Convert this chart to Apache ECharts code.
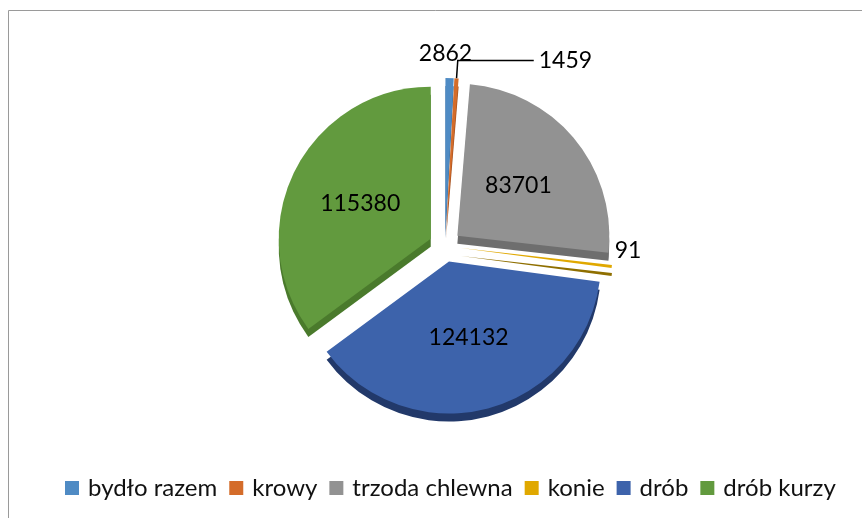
<!DOCTYPE html>
<html>
<head>
<meta charset="utf-8">
<script src="https://cdn.jsdelivr.net/npm/echarts@6/dist/echarts.min.js"></script>
<style>
html, body { margin: 0; padding: 0; background: #fff; }
#main { width: 862px; height: 518px; }
</style>
</head>
<body>
<div id="main"></div>
<script>
var names = ['bydło razem', 'krowy', 'trzoda chlewna', 'konie', 'drób', 'drób kurzy'];
var values = [2862, 1459, 83701, 91, 124132, 115380];
var colors = ['#4F8BC4', '#D46C2A', '#929292', '#E0A800', '#3D63AB', '#629A3E'];
var sideColors = ['#3A6A98', '#A5511F', '#6E6E6E', '#8F6F00', '#22396A', '#4A7A2C'];
var labelPos = ['outside', 'outside', 'inside', 'outside', 'inside', 'inside'];
var lineShow = [false, true, false, false, false, false];
var lineLen = [8, 18, 0, 4, 0, 0];
var lineLen2 = [0, 76, 0, 0, 0, 0];
// small nudges of the outside labels
var labelShift = { 0: [-36, -16], 3: [-6, -16] };

var myChart = echarts.init(document.getElementById('main'));

var center = [445, 246];
var radius = 152;
var depth = 8;

var topData = names.map(function (n, i) {
    return {
        name: n,
        value: values[i],
        selected: true,
        itemStyle: { color: colors[i] },
        label: { position: labelPos[i] },
        labelLine: { show: lineShow[i], length: lineLen[i], length2: lineLen2[i] }
    };
});

var sideData = names.map(function (n, i) {
    return {
        name: n,
        value: values[i],
        selected: true,
        itemStyle: { color: sideColors[i] }
    };
});

var option = {
    legend: {
        data: names,
        bottom: 13,
        left: 60,
        itemWidth: 14,
        itemHeight: 14,
        itemGap: 12,
        icon: 'rect',
        textStyle: { fontFamily: 'Lato', fontSize: 24, color: '#111', padding: [0, 0, 0, 4] }
    },
    graphic: [{
        type: 'rect',
        shape: { x: 8.5, y: 10.5, width: 870, height: 520 },
        style: { fill: null, stroke: '#9a9a9a', lineWidth: 1 },
        silent: true
    }],
    series: [
        {
            name: 'zwierzęta',
            type: 'pie',
            center: center,
            radius: radius,
            startAngle: 90,
            minAngle: 1.2,
            selectedMode: 'multiple',
            selectedOffset: 16,
            avoidLabelOverlap: false,
            label: {
                show: true,
                formatter: '{c}',
                fontFamily: 'Lato',
                fontSize: 23,
                color: '#000'
            },
            labelLine: { lineStyle: { color: '#000', width: 1.5 } },
            labelLayout: function (p) {
                var s = labelShift[p.dataIndex];
                return s ? { dx: s[0], dy: s[1] } : {};
            },
            data: topData,
            z: 2
        },
        {
            name: 'side',
            type: 'pie',
            center: [center[0], center[1] + depth],
            radius: radius,
            startAngle: 90,
            minAngle: 1.2,
            selectedMode: 'multiple',
            selectedOffset: 16,
            silent: true,
            label: { show: false },
            labelLine: { show: false },
            data: sideData,
            z: 1
        }
    ]
};

myChart.setOption(option);
</script>
</body>
</html>
